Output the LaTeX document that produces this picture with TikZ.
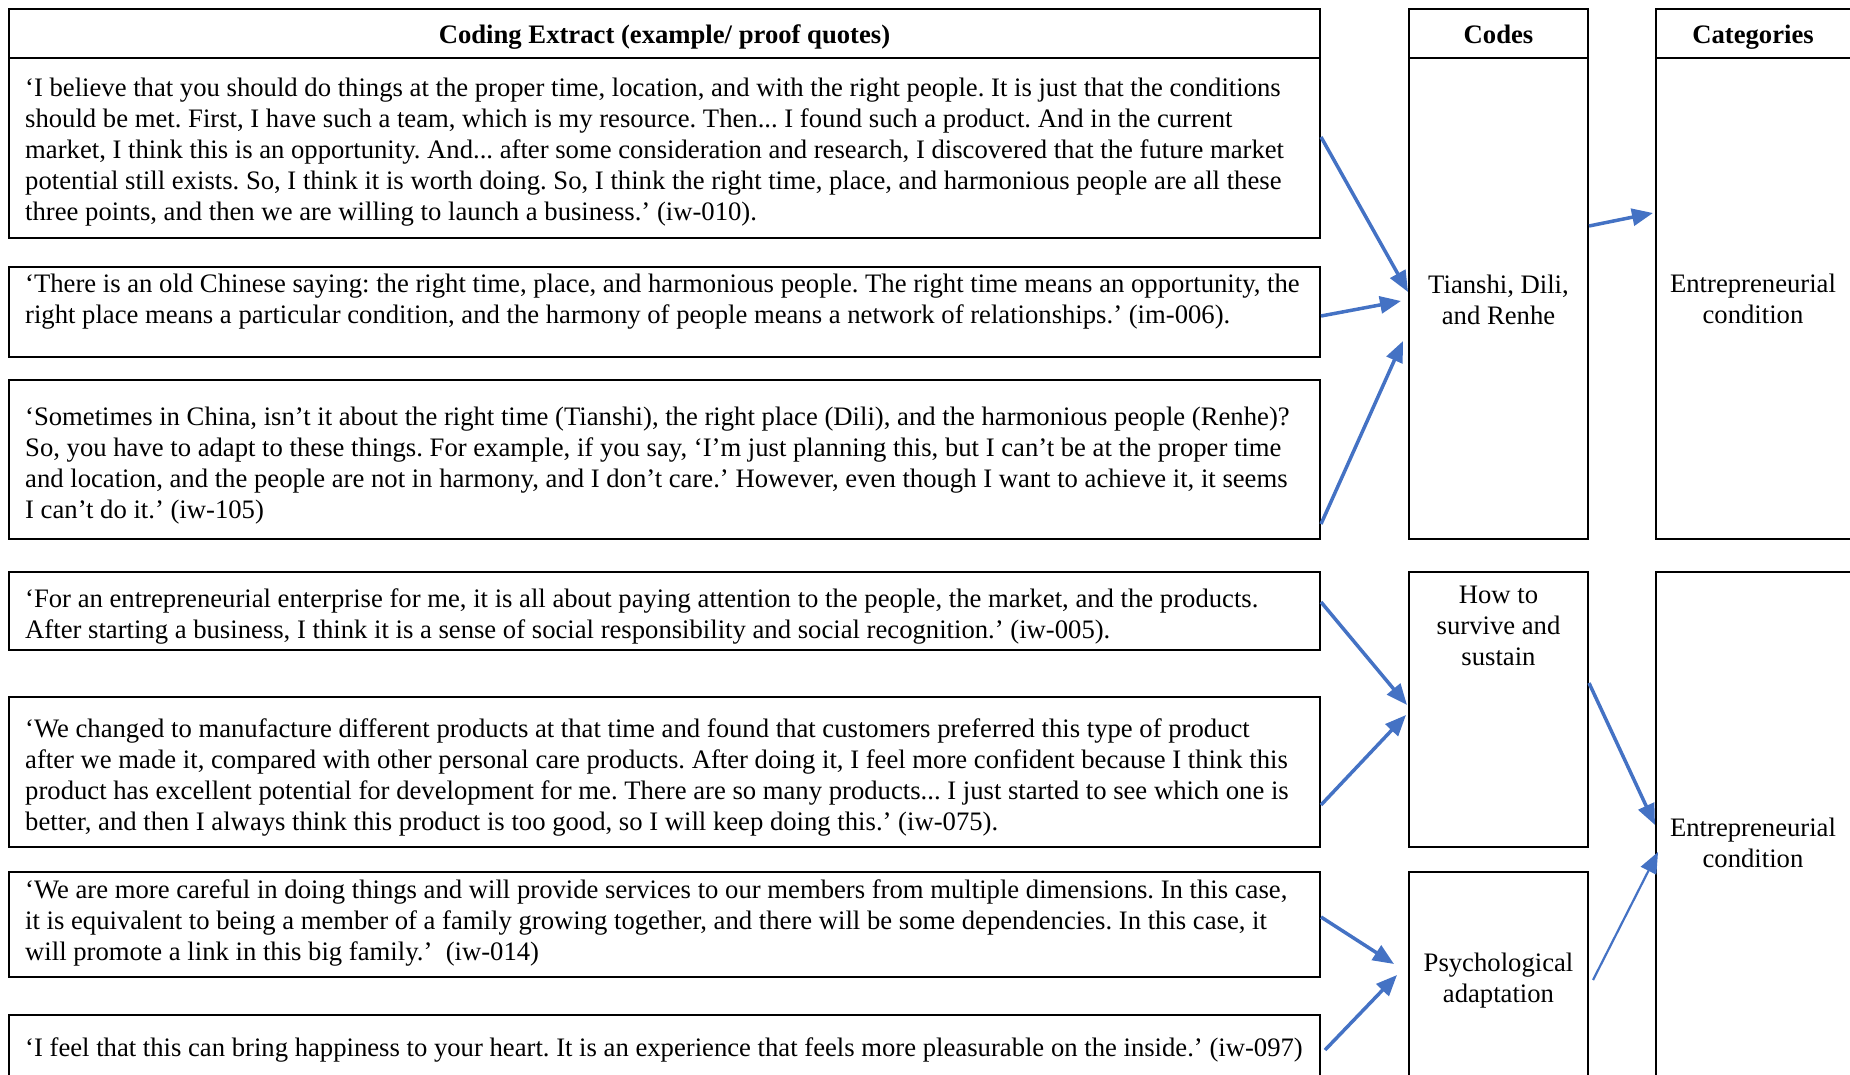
\documentclass[tikz,border=0pt]{standalone}
\usepackage{fontspec}
\setmainfont{Liberation Serif}
\usetikzlibrary{arrows.meta,fit,calc}
\definecolor{arrowblue}{HTML}{4472C4}
\newcommand{\qfont}{\fontsize{26.67pt}{31pt}\selectfont}
\newcommand{\qtext}[1]{\parbox[t]{1400pt}{\qfont\frenchspacing #1}}
\newcommand{\ctext}[1]{\parbox[t]{220pt}{\centering\qfont #1}}
\begin{document}
\frenchspacing
\begin{tikzpicture}[x=1pt,y=-1pt,
  box/.style={draw=black, line width=2pt, inner sep=0pt},
  quote/.style={anchor=base west, inner sep=0pt, font=\qfont},
  lbl/.style={anchor=base, inner sep=0pt, font=\qfont},
  arr/.style={draw=arrowblue, line width=3.5pt, -{Triangle[length=21pt,width=17pt]}},
  thinarr/.style={draw=arrowblue, line width=2.2pt, -{Triangle[length=21pt,width=17pt]}},
]
\useasboundingbox (0,0) rectangle (1850,1075);
\begin{scope}
\clip (0,0) rectangle (1850,1075);
% left column boxes
\node[box, fit={(9,9)(1320,58)}] (hdr) {};
\node[box, fit={(9,58)(1320,238)}] (q1) {};
\node[box, fit={(9,267)(1320,357)}] (q2) {};
\node[box, fit={(9,380)(1320,539)}] (q3) {};
\node[box, fit={(9,572)(1320,650)}] (q4) {};
\node[box, fit={(9,697)(1320,847)}] (q5) {};
\node[box, fit={(9,872)(1320,977)}] (q6) {};
\node[box, fit={(9,1015)(1320,1100)}] (q7) {};
% codes column
\node[box, fit={(1409,9)(1588,58)}] (ch) {};
\node[box, fit={(1409,58)(1588,539)}] (c1) {};
\node[box, fit={(1409,572)(1588,847)}] (c2) {};
\node[box, fit={(1409,872)(1588,1100)}] (c3) {};
% categories column
\node[box, fit={(1656,9)(1860,58)}] (kh) {};
\node[box, fit={(1656,58)(1860,539)}] (k1) {};
\node[box, fit={(1656,572)(1860,1100)}] (k2) {};

% headers
\node[lbl, font=\qfont\bfseries] (hdrt) at (664.5,44) {Coding Extract (example/ proof quotes)};
\node[lbl, font=\qfont\bfseries] (cht) at (1498.5,44) {Codes};
\node[lbl, font=\qfont\bfseries] (kht) at (1753,44) {Categories};

% quotes
\node[quote] (q1t) at (25,97) {\qtext{‘I believe that you should do things at the proper time, location, and with the right people. It is just that the conditions\\
should be met. First, I have such a team, which is my resource. Then... I found such a product. And in the current\\
market, I think this is an opportunity. And... after some consideration and research, I discovered that the future market\\
potential still exists. So, I think it is worth doing. So, I think the right time, place, and harmonious people are all these\\
three points, and then we are willing to launch a business.’ (iw-010).}};
\node[quote] (q2t) at (25,293) {\qtext{‘There is an old Chinese saying: the right time, place, and harmonious people. The right time means an opportunity, the\\
right place means a particular condition, and the harmony of people means a network of relationships.’ (im-006).}};
\node[quote] (q3t) at (25,425) {\qtext{‘Sometimes in China, isn’t it about the right time (Tianshi), the right place (Dili), and the harmonious people (Renhe)?\\
So, you have to adapt to these things. For example, if you say, ‘I’m just planning this, but I can’t be at the proper time\\
and location, and the people are not in harmony, and I don’t care.’ However, even though I want to achieve it, it seems\\
I can’t do it.’ (iw-105)}};
\node[quote] (q4t) at (25,607) {\qtext{‘For an entrepreneurial enterprise for me, it is all about paying attention to the people, the market, and the products.\\
After starting a business, I think it is a sense of social responsibility and social recognition.’ (iw-005).}};
\node[quote] (q5t) at (25,737) {\qtext{‘We changed to manufacture different products at that time and found that customers preferred this type of product\\
after we made it, compared with other personal care products. After doing it, I feel more confident because I think this\\
product has excellent potential for development for me. There are so many products... I just started to see which one is\\
better, and then I always think this product is too good, so I will keep doing this.’ (iw-075).}};
\node[quote] (q6t) at (25,898) {\qtext{‘We are more careful in doing things and will provide services to our members from multiple dimensions. In this case,\\
it is equivalent to being a member of a family growing together, and there will be some dependencies. In this case, it\\
will promote a link in this big family.’\ \ (iw-014)}};
\node[quote] (q7t) at (25,1056) {\qtext{‘I feel that this can bring happiness to your heart. It is an experience that feels more pleasurable on the inside.’ (iw-097)}};

% codes
\node[lbl] (c1t) at (1498.5,294) {\ctext{Tianshi, Dili,\\and Renhe}};
\node[lbl] (c2t) at (1498.5,603) {\ctext{How to\\survive and\\sustain}};
\node[lbl] (c3t) at (1498.5,971) {\ctext{Psychological\\adaptation}};
% categories
\node[lbl] (k1t) at (1753,293) {\ctext{Entrepreneurial\\condition}};
\node[lbl] (k2t) at (1753,836) {\ctext{Entrepreneurial\\condition}};

% arrows
\draw[arr] ($(q1.north east)+(0,80)$) -- ($(c1.north west)+(0,235)$);
\draw[arr] ($(q2.north east)+(0,50)$) -- ($(c1.north west)+(-7,244)$);
\draw[arr] ($(q3.north east)+(0,145)$) -- ($(c1.north west)+(-5,284)$);
\draw[arr] ($(c1.north east)+(0,169)$) -- ($(k1.north west)+(-2,156)$);
\draw[arr] ($(q4.north east)+(0,31)$) -- ($(c2.north west)+(-1,134)$);
\draw[arr] ($(q5.north east)+(0,109)$) -- ($(c2.north west)+(-2,144)$);
\draw[arr] ($(c2.north east)+(0,112)$) -- ($(k2.north west)+(0,254)$);
\draw[arr] ($(q6.north east)+(0,46)$) -- ($(c3.north west)+(-14,93)$);
\draw[arr] ($(q7.north east)+(4,36)$) -- ($(c3.north west)+(-11,104)$);
\draw[thinarr] ($(c3.north east)+(4,109)$) -- ($(k2.north west)+(3,281)$);
\end{scope}
\end{tikzpicture}
\end{document}
